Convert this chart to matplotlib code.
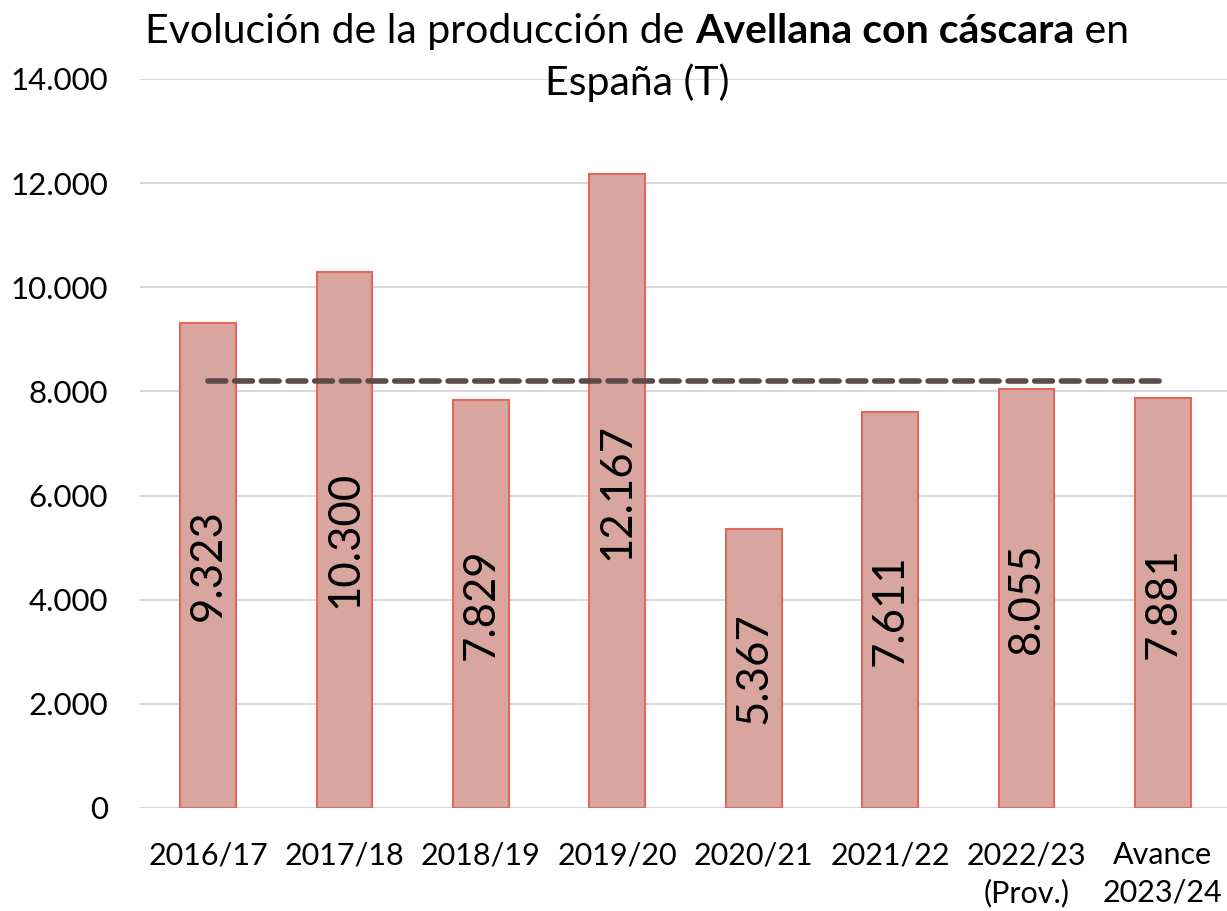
import matplotlib
matplotlib.use('Agg')
import matplotlib.pyplot as plt
from matplotlib.ticker import FuncFormatter

plt.rcParams['font.family'] = ['Lato', 'DejaVu Sans']

# campañas y producción (toneladas)
campanas = ['2016/17', '2017/18', '2018/19', '2019/20', '2020/21', '2021/22',
            '2022/23\n(Prov.)', 'Avance\n2023/24']
produccion = [9323, 10300, 7829, 12167, 5367, 7611, 8055, 7881]
media = 8206  # media de referencia

def miles(v, pos=None):
    return f'{int(round(v)):,}'.replace(',', '.')

fig = plt.figure(figsize=(12.27, 9.11), dpi=100)
ax = fig.add_axes([0.114, 0.1131, 0.886, 0.8002])

x = list(range(len(campanas)))
ax.bar(x, produccion, width=0.41, color='#D9A59F', edgecolor='#E06A5A',
       linewidth=1.5, zorder=2)
ax.plot(x, [media] * len(x), color='#5B4A47', linewidth=4, linestyle=(0, (3.2, 1.6)),
        dash_capstyle='round', zorder=3)

for xi, v in zip(x, produccion):
    ax.text(xi, v / 2, miles(v), rotation=90, ha='center', va='center',
            fontsize=31.5, color='black', zorder=4)

ax.set_ylim(0, 14000)
ax.set_xlim(-0.5, 7.47)
ax.set_yticks(range(0, 14001, 2000))
ax.yaxis.set_major_formatter(FuncFormatter(miles))
ax.set_xticks(x)
ax.set_xticklabels(campanas, fontsize=22, linespacing=1.4)
ax.tick_params(axis='y', labelsize=22.5, length=0, pad=23)
ax.tick_params(axis='x', length=0, pad=24)
for lab in ax.get_xticklabels():
    lab.set_verticalalignment('top')
ax.grid(axis='y', color='#D9D9D9', linewidth=1.5, zorder=0)
for s in ax.spines.values():
    s.set_visible(False)

# título con parte en negrita
partes = [('Evolución de la producción de ', 'normal'),
          ('Avellana con cáscara', 'bold'),
          (' en', 'normal')]
fig.canvas.draw()
r = fig.canvas.get_renderer()
textos = [fig.text(0, 0.965, t, fontsize=29.5, fontweight=w, va='center', ha='left')
          for t, w in partes]
anchos = [t.get_window_extent(r).width for t in textos]
W = fig.get_figwidth() * fig.dpi
x0 = 637 - sum(anchos) / 2
for t, a in zip(textos, anchos):
    t.set_x(x0 / W)
    x0 += a
fig.text(637 / W, 0.909, 'España (T)', fontsize=29.5, ha='center', va='center')

fig.savefig('out.png', dpi=100)
